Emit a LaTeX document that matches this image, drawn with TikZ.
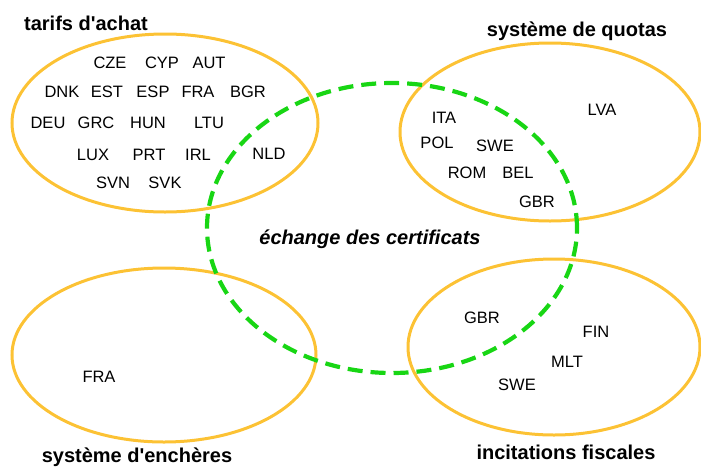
\documentclass[tikz,border=0pt]{standalone}
\usepackage{fontspec}
\setmainfont{Liberation Sans}[Ligatures=TeXOff]
\usepackage{tikz}

\definecolor{setorange}{RGB}{252,194,52}
\definecolor{tradegreen}{RGB}{24,214,20}

\begin{document}
\begin{tikzpicture}[x=1pt, y=-1pt,
    setring/.style={draw=setorange, line width=3pt},
    tradering/.style={draw=tradegreen, line width=4.2pt, dash pattern=on 15pt off 8pt},
    grouplabel/.style={font=\bfseries\fontsize{20}{24}\selectfont, inner sep=0pt},
    country/.style={font=\fontsize{16.5}{19}\selectfont, inner sep=0pt}]
            \useasboundingbox (0, 0) rectangle (701, 466);
            \draw[setring] (165, 123) ellipse [x radius=153pt, y radius=89pt];
            \draw[setring] (550, 132) ellipse [x radius=150pt, y radius=89pt];
            \draw[setring] (164, 355) ellipse [x radius=152pt, y radius=87pt];
            \draw[setring] (554, 347) ellipse [x radius=146pt, y radius=88pt];
            \draw[tradering] (392, 228) ellipse [x radius=185pt, y radius=145pt];
            \node[grouplabel] (tarifs) at (86, 23) {tarifs d'achat};
            \node[grouplabel] (quotas) at (577, 31) {système de quotas};
            \node[grouplabel] (encheres) at (137, 457) {système d'enchères};
            \node[grouplabel] (fiscales) at (566, 452) {incitations fiscales};
            \node[grouplabel, font=\bfseries\itshape\fontsize{20}{24}\selectfont] (echange) at (370, 239) {échange des certificats};
            \node[country] (cze) at (110, 63) {CZE};
            \node[country] (cyp) at (162, 63) {CYP};
            \node[country] (aut) at (209, 63) {AUT};
            \node[country] (dnk) at (62, 92) {DNK};
            \node[country] (est) at (107, 92) {EST};
            \node[country] (esp) at (153, 92) {ESP};
            \node[country] (fraT) at (198, 92) {FRA};
            \node[country] (bgr) at (248, 92) {BGR};
            \node[country] (deu) at (48, 123) {DEU};
            \node[country] (grc) at (96, 123) {GRC};
            \node[country] (hun) at (148, 123) {HUN};
            \node[country] (ltu) at (209, 123) {LTU};
            \node[country] (lux) at (93, 155) {LUX};
            \node[country] (prt) at (149, 155) {PRT};
            \node[country] (irl) at (198, 155) {IRL};
            \node[country] (nld) at (269, 154) {NLD};
            \node[country] (svn) at (113, 183) {SVN};
            \node[country] (svk) at (165, 183) {SVK};
            \node[country] (ita) at (444, 118) {ITA};
            \node[country] (pol) at (437, 143) {POL};
            \node[country] (sweQ) at (495, 146) {SWE};
            \node[country] (rom) at (467, 173) {ROM};
            \node[country] (bel) at (518, 173) {BEL};
            \node[country] (gbrQ) at (537, 202) {GBR};
            \node[country] (lva) at (602, 110) {LVA};
            \node[country] (fraE) at (99, 377) {FRA};
            \node[country] (gbrI) at (482, 318) {GBR};
            \node[country] (fin) at (596, 332) {FIN};
            \node[country] (mlt) at (567, 362) {MLT};
            \node[country] (sweI) at (517, 385) {SWE};
        \end{tikzpicture}
\end{document}
